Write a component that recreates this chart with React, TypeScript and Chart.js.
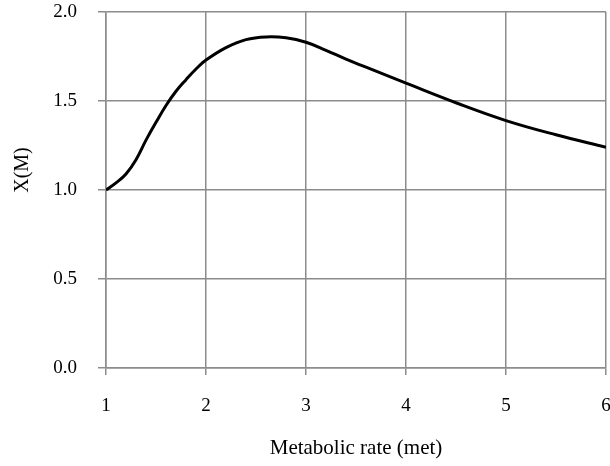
import React, { useEffect, useRef } from "react";
import { Chart, registerables } from "chart.js";

Chart.register(...registerables);

const metabolicRate = [1.0, 1.1, 1.2, 1.3, 1.4, 1.5, 1.6, 1.7, 1.8, 1.9, 2.0, 2.2, 2.4, 2.6, 2.8, 3.0, 3.2, 3.4, 3.6, 3.8, 4.0, 4.5, 5.0, 5.5, 6.0];
const xmValues = [1.0, 1.04, 1.09, 1.17, 1.28, 1.38, 1.475, 1.555, 1.62, 1.68, 1.73, 1.8, 1.845, 1.86, 1.855, 1.83, 1.785, 1.735, 1.69, 1.645, 1.6, 1.49, 1.39, 1.31, 1.24];

const xTitle = "Metabolic rate (met)";
const yTitle = "X(M)";

const GRID = "#8c8c8c";
const FONT = "'Liberation Serif', 'DejaVu Serif', serif";

const yTitlePlugin = {
  id: "yTitlePlugin",
  afterDraw(chart: any) {
    const { ctx } = chart;
    ctx.save();
    ctx.translate(22.5, 170);
    ctx.rotate(-Math.PI / 2);
    ctx.font = `20px ${FONT}`;
    ctx.fillStyle = "#000";
    ctx.textAlign = "center";
    ctx.textBaseline = "middle";
    ctx.fillText(yTitle, 0, 0);
    ctx.restore();
  },
};

export default function App() {
  const ref = useRef<HTMLCanvasElement | null>(null);

  useEffect(() => {
    document.body.style.margin = "0";
    const canvas = ref.current;
    if (!canvas) return;
    const chart = new Chart(canvas, {
      type: "line",
      data: {
        datasets: [
          {
            data: metabolicRate.map((x, i) => ({ x, y: xmValues[i] })),
            borderColor: "#000000",
            borderWidth: 3,
            pointRadius: 0,
            tension: 0.4,
            fill: false,
          },
        ],
      },
      options: {
        responsive: false,
        animation: false,
        layout: { padding: { top: 12, right: 4, left: 0, bottom: 0 } },
        plugins: { legend: { display: false }, tooltip: { enabled: false } },
        scales: {
          x: {
            type: "linear",
            min: 1,
            max: 6,
            afterFit: (s: any) => {
              s.height = 98;
              s.paddingLeft = 0;
              s.paddingRight = 0;
              s.paddingTop = 0;
              s.paddingBottom = 0;
            },
            ticks: {
              stepSize: 1,
              padding: 20,
              color: "#000",
              font: { family: FONT, size: 19 },
              maxRotation: 0,
            },
            grid: { color: GRID, lineWidth: 1.5, tickLength: 7 },
            border: { color: GRID, width: 1.5 },
            title: {
              display: true,
              text: xTitle,
              color: "#000",
              font: { family: FONT, size: 21 },
              padding: { top: 0, bottom: 5 },
            },
          },
          y: {
            min: 0,
            max: 2,
            afterFit: (s: any) => {
              s.width = 106;
              s.paddingLeft = 0;
              s.paddingRight = 0;
              s.paddingTop = 0;
              s.paddingBottom = 0;
            },
            ticks: {
              stepSize: 0.5,
              padding: 21,
              color: "#000",
              font: { family: FONT, size: 19 },
              callback: (v: any) => Number(v).toFixed(1),
            },
            grid: { color: GRID, lineWidth: 1.5, tickLength: 8 },
            border: { color: GRID, width: 1.5 },
            title: { display: false },
          },
        },
      },
      plugins: [yTitlePlugin],
    });
    return () => chart.destroy();
  }, []);

  return (
    <div style={{ width: 610, height: 466 }}>
      <canvas ref={ref} width={610} height={466} />
    </div>
  );
}
